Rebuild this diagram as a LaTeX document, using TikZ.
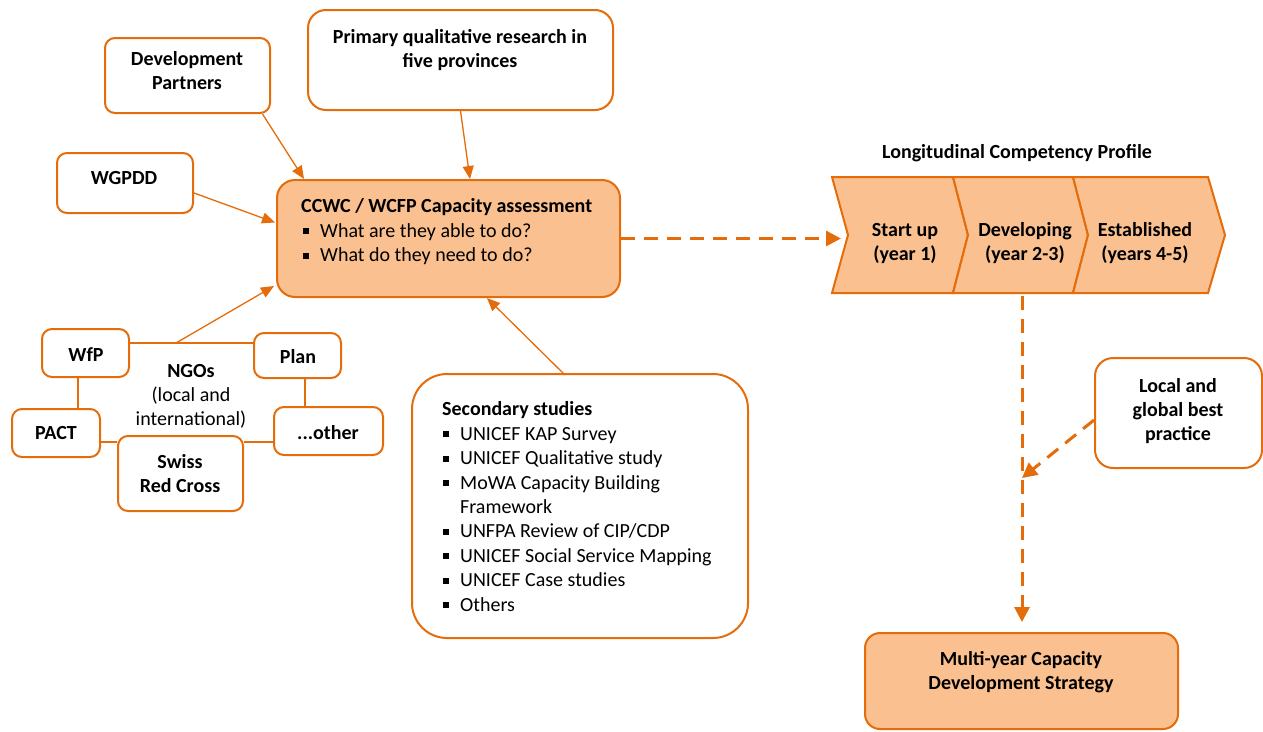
\documentclass[tikz,border=0pt]{standalone}
\usepackage{fontspec}
\setmainfont{Carlito}
\usetikzlibrary{arrows.meta,calc}
\definecolor{org}{HTML}{E46C0A}
\definecolor{peach}{HTML}{FAC090}
\newcommand\sqb{\rule[3pt]{6pt}{6pt}}
\begin{document}
\begin{tikzpicture}[x=1pt,y=-1pt,
 box/.style={draw=org, line width=2pt, rounded corners=10pt, fill=white, inner sep=0pt},
 fbox/.style={box, fill=peach},
 txt/.style={font=\fontsize{20}{24}\selectfont\bfseries, align=center, inner sep=0pt},
 ntxt/.style={font=\fontsize{20}{24.4}\selectfont, align=left, inner sep=0pt},
 con/.style={draw=org, line width=1.3pt},
 arr/.style={con, -{Triangle[length=13pt,width=11pt]}},
 darr/.style={draw=org, line width=3pt, dash pattern=on 14pt off 9pt, -{Triangle[length=15pt,width=15pt]}},
 chev/.style={draw=org, line width=2pt, fill=peach, line join=miter},
]
\useasboundingbox (0,0) rectangle (1263,731);

% boxes
\node[box, minimum width=165, minimum height=75] (dp) at (187.5,75.5) {};
\node[box, minimum width=305, minimum height=100, rounded corners=18pt] (pq) at (460.5,60) {};
\node[box, minimum width=136, minimum height=60] (wg) at (125,183) {};
\node[fbox, minimum width=343, minimum height=117, rounded corners=18pt] (cc) at (448.5,238.5) {};
\node[box, minimum width=336, minimum height=264, rounded corners=35pt] (sec) at (580,506) {};
\node[box, minimum width=167, minimum height=110, rounded corners=18pt] (loc) at (1178.5,413) {};
\node[fbox, minimum width=313, minimum height=96, rounded corners=15pt] (mul) at (1021.5,681) {};
\node[box, minimum width=87, minimum height=48] (wfp) at (85.5,353) {};
\node[box, minimum width=87, minimum height=45] (plan) at (297.5,355.5) {};
\node[box, minimum width=88, minimum height=48] (pact) at (56,433) {};
\node[box, minimum width=109, minimum height=48] (oth) at (328.5,431) {};
\node[box, minimum width=125, minimum height=75] (sw) at (180.5,473.5) {};

% texts
\node[txt] (tdp) at (187,71) {Development\\Partners};
\node[txt] (tpq) at (460,50) {Primary qualitative research in\\five provinces};
\node[txt] (twg) at (124,178) {WGPDD};
\node[ntxt, anchor=west] (tcc) at (301,231.7) {\textbf{CCWC / WCFP Capacity assessment}\\
 \makebox[19pt][l]{\hspace{2pt}\sqb}What are they able to do?\\
 \makebox[19pt][l]{\hspace{2pt}\sqb}What do they need to do?};
\node[ntxt, anchor=west] (tsec) at (442,506.5) {\textbf{Secondary studies}\\
 \makebox[18pt][l]{\hspace{1pt}\sqb}UNICEF KAP Survey\\
 \makebox[18pt][l]{\hspace{1pt}\sqb}UNICEF Qualitative study\\
 \makebox[18pt][l]{\hspace{1pt}\sqb}MoWA Capacity Building\\
 \hspace*{18pt}Framework\\
 \makebox[18pt][l]{\hspace{1pt}\sqb}UNFPA Review of CIP/CDP\\
 \makebox[18pt][l]{\hspace{1pt}\sqb}UNICEF Social Service Mapping\\
 \makebox[18pt][l]{\hspace{1pt}\sqb}UNICEF Case studies\\
 \makebox[18pt][l]{\hspace{1pt}\sqb}Others};
\node[txt] (tloc) at (1178,411) {Local and\\global best\\practice};
\node[txt] (tmul) at (1021,672.5) {Multi-year Capacity\\Development Strategy};
\node[txt] (twfp) at (86,355) {WfP};
\node[txt] (tplan) at (298,357) {Plan};
\node[txt] (tpact) at (56,433) {PACT};
\node[txt] (toth) at (328,433) {...other};
\node[txt] (tsw) at (180,473.5) {Swiss\\Red Cross};
\node[txt, font=\fontsize{20}{24}\selectfont] (tngo) at (191,396) {\textbf{NGOs}\\(local and\\international)};
\node[txt] (tlcp) at (1017,153) {Longitudinal Competency Profile};

% chevrons
\draw[chev] (832,177) -- (953,177) -- (968,235) -- (953,293) -- (832,293) -- (848,235) -- cycle;
\draw[chev] (953,177) -- (1073,177) -- (1088,235) -- (1073,293) -- (953,293) -- (968,235) -- cycle;
\draw[chev] (1073,177) -- (1208,177) -- (1225,235) -- (1208,293) -- (1073,293) -- (1088,235) -- cycle;
\node[txt] (ch1) at (905,243.5) {Start up\\(year 1)};
\node[txt] (ch2) at (1025,243.5) {Developing\\(year 2-3)};
\node[txt] (ch3) at (1145,243.5) {Established\\(years 4-5)};
\coordinate (c1) at (841,238.5);
\coordinate (c2b) at (1022,296);
\coordinate (mid) at (1022,478);

% NGO links
\draw[con] ($(wfp.east)+(0,-10)$) coordinate (l1) -- (l1 -| plan.west);
\draw[con] ($(wfp.south)+(-7.5,0)$) coordinate (l2) -- (l2 |- pact.north);
\draw[con] ($(plan.south)+(7.5,0)$) coordinate (l3) -- (l3 |- oth.north);
\draw[con] ($(pact.east)+(0,9)$) coordinate (l4) -- (l4 -| sw.west);
\draw[con] (l4 -| sw.east) -- (l4 -| oth.west);
\coordinate (ngo) at (176,343);

% arrows to assessment
\draw[arr] ($(dp.south)+(75,0)$) -- ($(cc.north west)+(28,0)$);
\draw[arr] (pq.south) -- ($(cc.north)+(21.5,0)$);
\draw[arr] ($(wg.east)+(0,10)$) -- ($(cc.west)+(-1,-16)$);
\draw[arr] (ngo) -- ($(cc.south west)+(-2,-12)$);
\draw[arr] ($(sec.north)+(-15,2)$) -- ($(cc.south)+(38.5,0)$);

% dashed
\draw[darr] (cc.east) -- (c1);
\draw[darr, shorten >=10pt] (c2b) -- (c2b |- mul.north);
\draw[darr] ($(loc.west)+(0,7)$) -- (mid);
\end{tikzpicture}
\end{document}
